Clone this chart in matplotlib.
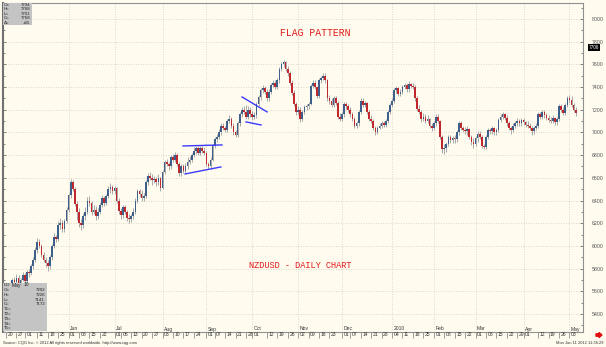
import numpy as np
import matplotlib
matplotlib.use('Agg')
from matplotlib import pyplot as plt
from matplotlib.transforms import blended_transform_factory, offset_copy
from matplotlib.patches import Rectangle, FancyArrow

# ------------------ DATOS (NZDUSD diario) ------------------
start = '2009-04-20'  # primera vela
opens = [5620, 5640, 5600, 5660, 5700, 5680, 5720, 5660, 5700, 5740,
         5690, 5770, 5760, 5820, 5880, 5960, 6030, 6000, 5920, 5880,
         5850, 5820, 5900, 6000, 6080, 6060, 6180, 6200, 6150, 6220,
         6320, 6450, 6560, 6500, 6370, 6300, 6200, 6180, 6260, 6300,
         6400, 6380, 6300, 6320, 6260, 6300, 6360, 6420, 6380, 6440,
         6500, 6520, 6480, 6510, 6400, 6310, 6270, 6340, 6300, 6250,
         6240, 6260, 6300, 6400, 6480, 6460, 6420, 6440, 6560, 6620,
         6600, 6580, 6590, 6560, 6600, 6510, 6650, 6740, 6720, 6700,
         6780, 6760, 6800, 6720, 6640, 6700, 6660, 6700, 6740, 6760,
         6800, 6840, 6860, 6820, 6860, 6840, 6820, 6720, 6700, 6760,
         6880, 6940, 6960, 7000, 7060, 7040, 7020, 7100, 7120, 7060,
         7000, 6980, 7080, 7160, 7200, 7180, 7140, 7200, 7160, 7140,
         7150, 7250, 7310, 7370, 7390, 7360, 7300, 7360, 7420, 7440,
         7400, 7460, 7560, 7600, 7620, 7560, 7520, 7440, 7350, 7250,
         7180, 7200, 7120, 7180, 7220, 7230, 7250, 7410, 7440, 7400,
         7320, 7460, 7480, 7500, 7460, 7300, 7280, 7240, 7300, 7260,
         7140, 7120, 7160, 7250, 7230, 7200, 7160, 7120, 7060, 7080,
         7180, 7280, 7240, 7260, 7180, 7120, 7100, 7040, 7000, 7040,
         7060, 7080, 7070, 7100, 7180, 7240, 7280, 7370, 7390, 7340,
         7360, 7400, 7420, 7380, 7430, 7410, 7400, 7300, 7210, 7180,
         7120, 7140, 7100, 7120, 7060, 7040, 7080, 7140, 7100, 6960,
         6850, 6860, 6900, 6960, 6930, 6950, 6940, 7000, 7080, 7040,
         7020, 7010, 7030, 6960, 6920, 6900, 6950, 6990, 6960, 6880,
         6870, 6960, 7020, 7010, 7040, 7000, 7020, 7110, 7140, 7160,
         7130, 7080, 7040, 7020, 7060, 7080, 7100, 7080, 7110, 7090,
         7070, 7060, 7040, 7010, 7040, 7060, 7160, 7140, 7180, 7150,
         7130, 7110, 7100, 7130, 7090, 7120, 7230, 7200, 7170, 7240,
         7300, 7290, 7240, 7202]
highs = [5660, 5650, 5680, 5720, 5730, 5750, 5740, 5720, 5770, 5760,
         5790, 5800, 5840, 5900, 5990, 6070, 6060, 6020, 5950, 5900,
         5880, 5920, 6020, 6110, 6100, 6220, 6250, 6230, 6240, 6340,
         6470, 6590, 6580, 6520, 6400, 6330, 6240, 6290, 6340, 6430,
         6440, 6400, 6360, 6350, 6330, 6390, 6450, 6440, 6460, 6530,
         6550, 6540, 6530, 6520, 6420, 6330, 6360, 6360, 6320, 6280,
         6280, 6330, 6420, 6500, 6500, 6490, 6470, 6580, 6640, 6650,
         6630, 6620, 6610, 6630, 6610, 6670, 6760, 6770, 6740, 6800,
         6810, 6830, 6820, 6740, 6720, 6720, 6730, 6780, 6790, 6820,
         6870, 6880, 6880, 6880, 6880, 6870, 6840, 6740, 6780, 6900,
         6960, 6990, 7030, 7080, 7080, 7060, 7120, 7150, 7140, 7080,
         7020, 7100, 7180, 7220, 7230, 7240, 7230, 7220, 7190, 7180,
         7270, 7330, 7390, 7420, 7410, 7380, 7380, 7440, 7460, 7460,
         7480, 7580, 7620, 7640, 7630, 7590, 7540, 7460, 7370, 7270,
         7230, 7220, 7200, 7240, 7250, 7270, 7430, 7460, 7460, 7410,
         7480, 7500, 7520, 7520, 7470, 7330, 7300, 7320, 7320, 7280,
         7170, 7180, 7270, 7270, 7250, 7220, 7180, 7140, 7100, 7200,
         7300, 7300, 7280, 7270, 7200, 7150, 7120, 7060, 7060, 7080,
         7100, 7100, 7120, 7200, 7260, 7300, 7390, 7410, 7400, 7380,
         7420, 7440, 7440, 7450, 7440, 7440, 7420, 7320, 7240, 7200,
         7170, 7160, 7150, 7130, 7080, 7100, 7160, 7160, 7110, 6980,
         6900, 6920, 6980, 6980, 6970, 6980, 7020, 7100, 7100, 7060,
         7050, 7060, 7040, 6980, 6950, 6970, 7010, 7010, 6980, 6900,
         6980, 7040, 7040, 7060, 7050, 7040, 7130, 7160, 7180, 7170,
         7150, 7100, 7060, 7080, 7100, 7130, 7120, 7130, 7130, 7100,
         7100, 7080, 7060, 7060, 7080, 7180, 7180, 7200, 7200, 7170,
         7150, 7140, 7150, 7140, 7140, 7250, 7250, 7220, 7260, 7320,
         7330, 7320, 7260, 7226]
lows = [5590, 5580, 5590, 5640, 5660, 5660, 5640, 5640, 5690, 5670,
        5670, 5730, 5740, 5800, 5860, 5940, 5980, 5900, 5860, 5810,
        5780, 5800, 5880, 5980, 6030, 6040, 6150, 6120, 6120, 6200,
        6300, 6420, 6480, 6350, 6230, 6170, 6140, 6160, 6230, 6280,
        6350, 6270, 6280, 6230, 6240, 6280, 6340, 6350, 6360, 6420,
        6470, 6460, 6460, 6380, 6280, 6240, 6250, 6280, 6220, 6200,
        6210, 6240, 6280, 6380, 6430, 6400, 6400, 6420, 6540, 6580,
        6540, 6550, 6530, 6540, 6480, 6500, 6630, 6700, 6670, 6680,
        6740, 6740, 6700, 6620, 6620, 6640, 6640, 6680, 6720, 6740,
        6780, 6810, 6800, 6800, 6820, 6800, 6700, 6680, 6680, 6750,
        6860, 6920, 6940, 6980, 7020, 7000, 7000, 7080, 7040, 6980,
        6960, 6960, 7060, 7140, 7160, 7120, 7120, 7140, 7110, 7120,
        7130, 7230, 7290, 7350, 7340, 7280, 7280, 7340, 7400, 7380,
        7380, 7440, 7540, 7580, 7540, 7500, 7420, 7330, 7230, 7150,
        7150, 7090, 7100, 7160, 7200, 7210, 7240, 7390, 7380, 7300,
        7300, 7440, 7460, 7440, 7280, 7250, 7220, 7220, 7240, 7120,
        7100, 7100, 7140, 7210, 7180, 7140, 7100, 7040, 7040, 7060,
        7160, 7220, 7220, 7160, 7100, 7080, 7020, 6980, 6990, 7030,
        7040, 7050, 7050, 7080, 7160, 7220, 7260, 7350, 7320, 7320,
        7340, 7380, 7360, 7360, 7390, 7380, 7280, 7190, 7160, 7090,
        7100, 7080, 7080, 7040, 7010, 7020, 7060, 7080, 6940, 6820,
        6810, 6830, 6880, 6910, 6910, 6910, 6920, 6980, 7020, 7000,
        6990, 6980, 6940, 6890, 6860, 6880, 6920, 6940, 6860, 6850,
        6850, 6940, 6990, 6990, 6980, 6980, 7000, 7090, 7120, 7110,
        7060, 7020, 6990, 7000, 7040, 7060, 7060, 7060, 7070, 7050,
        7040, 7020, 6980, 6990, 7020, 7040, 7120, 7120, 7130, 7110,
        7090, 7080, 7080, 7070, 7070, 7100, 7180, 7150, 7150, 7220,
        7260, 7220, 7180, 7141]
closes = [5640, 5600, 5660, 5700, 5680, 5720, 5660, 5700, 5740, 5690,
          5770, 5760, 5820, 5880, 5960, 6030, 6000, 5920, 5880, 5850,
          5820, 5900, 6000, 6080, 6060, 6180, 6200, 6150, 6220, 6320,
          6450, 6560, 6500, 6370, 6300, 6200, 6180, 6260, 6300, 6400,
          6380, 6300, 6320, 6260, 6300, 6360, 6420, 6380, 6440, 6500,
          6520, 6480, 6510, 6400, 6310, 6270, 6340, 6300, 6250, 6240,
          6260, 6300, 6400, 6480, 6460, 6420, 6440, 6560, 6620, 6600,
          6580, 6590, 6560, 6600, 6510, 6650, 6740, 6720, 6700, 6780,
          6760, 6800, 6720, 6640, 6700, 6660, 6700, 6740, 6760, 6800,
          6840, 6860, 6820, 6860, 6840, 6820, 6720, 6700, 6760, 6880,
          6940, 6960, 7000, 7060, 7040, 7020, 7100, 7120, 7060, 7000,
          6980, 7080, 7160, 7200, 7180, 7140, 7200, 7160, 7140, 7150,
          7250, 7310, 7370, 7390, 7360, 7300, 7360, 7420, 7440, 7400,
          7460, 7560, 7600, 7620, 7560, 7520, 7440, 7350, 7250, 7180,
          7200, 7120, 7180, 7220, 7230, 7250, 7410, 7440, 7400, 7320,
          7460, 7480, 7500, 7460, 7300, 7280, 7240, 7300, 7260, 7140,
          7120, 7160, 7250, 7230, 7200, 7160, 7120, 7060, 7080, 7180,
          7280, 7240, 7260, 7180, 7120, 7100, 7040, 7000, 7040, 7060,
          7080, 7070, 7100, 7180, 7240, 7280, 7370, 7390, 7340, 7360,
          7400, 7420, 7380, 7430, 7410, 7400, 7300, 7210, 7180, 7120,
          7140, 7100, 7120, 7060, 7040, 7080, 7140, 7100, 6960, 6850,
          6860, 6900, 6960, 6930, 6950, 6940, 7000, 7080, 7040, 7020,
          7010, 7030, 6960, 6920, 6900, 6950, 6990, 6960, 6880, 6870,
          6960, 7020, 7010, 7040, 7000, 7020, 7110, 7140, 7160, 7130,
          7080, 7040, 7020, 7060, 7080, 7100, 7080, 7110, 7090, 7070,
          7060, 7040, 7010, 7040, 7060, 7160, 7140, 7180, 7150, 7130,
          7110, 7100, 7130, 7090, 7120, 7230, 7200, 7170, 7240, 7300,
          7290, 7240, 7200, 7172]

# fechas de las etiquetas del eje x
day_ticks = ['2009-04-20', '2009-04-27', '2009-05-01', '2009-05-11', '2009-05-18', '2009-05-25',
             '2009-06-01', '2009-06-08', '2009-06-15', '2009-06-22',
             '2009-07-01', '2009-07-06', '2009-07-13', '2009-07-20', '2009-07-27',
             '2009-08-03', '2009-08-10', '2009-08-17', '2009-08-24',
             '2009-09-01', '2009-09-07', '2009-09-14', '2009-09-21', '2009-09-28',
             '2009-10-01', '2009-10-12', '2009-10-19', '2009-10-26',
             '2009-11-02', '2009-11-09', '2009-11-16', '2009-11-23',
             '2009-12-01', '2009-12-07', '2009-12-14', '2009-12-21', '2009-12-28',
             '2010-01-04', '2010-01-11', '2010-01-18', '2010-01-25',
             '2010-02-01', '2010-02-08', '2010-02-15', '2010-02-22',
             '2010-03-01', '2010-03-08', '2010-03-15', '2010-03-22', '2010-03-29',
             '2010-04-01', '2010-04-12', '2010-04-19', '2010-04-26', '2010-05-03']
month_ticks = ['2009-06-01', '2009-07-01', '2009-08-03', '2009-09-01', '2009-10-01', '2009-11-02',
               '2009-12-01', '2010-01-04', '2010-02-01', '2010-03-01', '2010-04-01', '2010-05-03']
month_names = ['Jun', 'Jul', 'Aug', 'Sep', 'Oct', 'Nov', 'Dec', '2010', 'Feb', 'Mar', 'Apr', 'May']

# lineas del patron bandera (indice de vela, precio)
flag1_top = ([84.8, 103.5], [6881, 6890])
flag1_bot = ([85.8, 103.0], [6634, 6696])
flag2_top = ([113.1, 125.1], [7313, 7181])
flag2_bot = ([115.0, 122.2], [7093, 7066])

# cajas de informacion
top_box = [('O=', '7704'), ('H=', '7768'), ('L=', '7701'), ('C=', '7768'), ('\u0394=', '+65')]
bot_box = [('O=', '7202'), ('H=', '7226'), ('L=', '7141'), ('C=', '7172'),
           ('T1=', ''), ('T2=', ''), ('T3=', ''), ('T4=', ''), ('T5=', '')]
last_price = '7706'

# ------------------ GRAFICO ----------------------------------------------------
W, H = 606, 347
bg = '#fffbef'
fig = plt.figure(figsize=(W / 100, H / 100), dpi=100, facecolor=bg)
ax = fig.add_axes([3 / W, 1 - 332 / H, 580 / W, 329 / H], facecolor=bg)

o = np.array(opens, dtype=float)
c = np.array(closes, dtype=float)
hi = np.array(highs, dtype=float)
lo = np.array(lows, dtype=float)
x = np.arange(len(c))
up = c >= o
blue, red = '#3e5f8a', '#c0282d'

ax.vlines(x, lo, hi, color='#a9a9a9', lw=0.7, zorder=2)
body = np.maximum(np.abs(c - o), 8)
ax.bar(x[up], body[up], bottom=np.minimum(o, c)[up], width=0.8, color=blue, lw=0, zorder=3)
ax.bar(x[~up], body[~up], bottom=np.minimum(o, c)[~up], width=0.8, color=red, lw=0, zorder=3)

for ln in [flag1_top, flag1_bot, flag2_top, flag2_bot]:
    ax.plot(ln[0], ln[1], color='#3b3bff', lw=1.0, zorder=4)

ax.set_xlim(-1.44, 276.5)
ax.set_ylim(5241, 8141)

# rejilla
ax.set_yticks(np.arange(5400, 8001, 200))
ax.set_yticks(np.arange(5300, 8101, 100), minor=True)
ax.yaxis.tick_right()
ax.tick_params(axis='y', which='both', left=True, right=True, labelleft=False, labelright=True,
               labelsize=3.8, colors='#555555', pad=6, length=2, width=0.5, direction='in')
ax.tick_params(axis='y', which='minor', length=1.2)
for lab in ax.get_yticklabels():
    lab.set_fontfamily('Liberation Sans')
m_idx = np.busday_count(start, month_ticks)
ax.set_xticks(m_idx)
ax.tick_params(axis='x', bottom=False, labelbottom=False)
ax.grid(True, which='major', color='#cfcbbd', lw=0.6, ls=(0, (1, 2)))
for s in ['top', 'bottom', 'right']:
    ax.spines[s].set_color('#909090')
    ax.spines[s].set_linewidth(0.8)
ax.spines['left'].set_color('#707070')
ax.spines['left'].set_linewidth(1.5)

# etiquetas del eje de tiempo
trans = blended_transform_factory(ax.transData, fig.transFigure)
tr_txt = offset_copy(trans, fig=fig, x=1.5, y=0, units='dots')
d_idx = np.busday_count(start, day_ticks)
ax.vlines(d_idx, 1 - 338 / H, 1 - 332 / H, transform=trans, clip_on=False, color='#777777', lw=0.5)
for i, d in zip(d_idx, day_ticks):
    ax.text(i, 1 - 335 / H, d[-2:], transform=tr_txt, fontsize=3.6, family='Liberation Sans',
            va='center', ha='left', color='#333333')
for i, m in zip(m_idx, month_names):
    ax.text(i, 1 - 329 / H, m, transform=tr_txt, fontsize=3.6, family='Liberation Sans',
            va='center', ha='left', color='#333333', zorder=6)

# textos
ax.text(315 / W, 1 - 33 / H, 'FLAG PATTERN', transform=fig.transFigure, fontsize=7,
        family='Liberation Mono', color='#e01b1b', ha='center', va='center')
ax.text(300 / W, 1 - 266 / H, 'NZDUSD - DAILY CHART', transform=fig.transFigure, fontsize=6.2,
        family='Liberation Mono', color='#e01b1b', ha='center', va='center')
fig.text(3 / W, 1 - 343 / H, 'Source: CQG Inc. \u00a9 2012 All rights reserved worldwide. http://www.cqg.com',
         fontsize=2.9, family='Liberation Sans', va='center', ha='left', color='#333333')
fig.text(604 / W, 1 - 343 / H, 'Mon Jun 11 2012 11:36:29', fontsize=2.9, family='Liberation Sans',
         va='center', ha='right', color='#333333')

# caja superior izquierda
fig.patches.append(Rectangle((3 / W, 1 - 25 / H), 29 / W, 22 / H, transform=fig.transFigure,
                             facecolor='#c4c4c4', edgecolor='none', zorder=5))
for k, (a, b) in enumerate(top_box):
    yy = 1 - (5 + 4.4 * k) / H
    fig.text(4 / W, yy, a, fontsize=3.2, family='Liberation Sans', va='center', color='#222222', zorder=6)
    fig.text(30 / W, yy, b, fontsize=3.2, family='Liberation Sans', va='center', ha='right',
             color='#222222', zorder=6)

# caja inferior izquierda
fig.patches.append(Rectangle((3 / W, 1 - 331 / H), 44 / W, 48 / H, transform=fig.transFigure,
                             facecolor='#c4c4c4', edgecolor='none', zorder=5))
fig.text(4 / W, 1 - 285 / H, 'DD', fontsize=3.2, family='Liberation Sans', va='center', color='#222222', zorder=6)
fig.text(12 / W, 1 - 285 / H, 'May', fontsize=3.6, family='Liberation Sans', va='center', color='#222222', zorder=6)
fig.text(24 / W, 1 - 285 / H, '10', fontsize=3.6, family='Liberation Sans', va='center', color='#222222', zorder=6)
for k, (a, b) in enumerate(bot_box):
    yy = 1 - (290 + 4.8 * k) / H
    fig.text(4 / W, yy, a, fontsize=3.2, family='Liberation Sans', va='center', color='#222222', zorder=6)
    fig.text(45 / W, yy, b, fontsize=3.2, family='Liberation Sans', va='center', ha='right',
             color='#222222', zorder=6)

# precio actual en el eje derecho
fig.text(594 / W, 1 - 47.5 / H, last_price, fontsize=3.4, family='Liberation Sans', va='center', ha='center',
         color='white', bbox=dict(boxstyle='square,pad=0.2', fc='black', ec='none'))

# flecha roja
fig.patches.append(FancyArrow(596 / W, 1 - 335 / H, 6 / W, 0, width=2.5 / H, head_width=5 / H,
                              head_length=3 / W, length_includes_head=True, color='#e01010',
                              transform=fig.transFigure))

fig.savefig('out.png', dpi=100, facecolor=bg)
